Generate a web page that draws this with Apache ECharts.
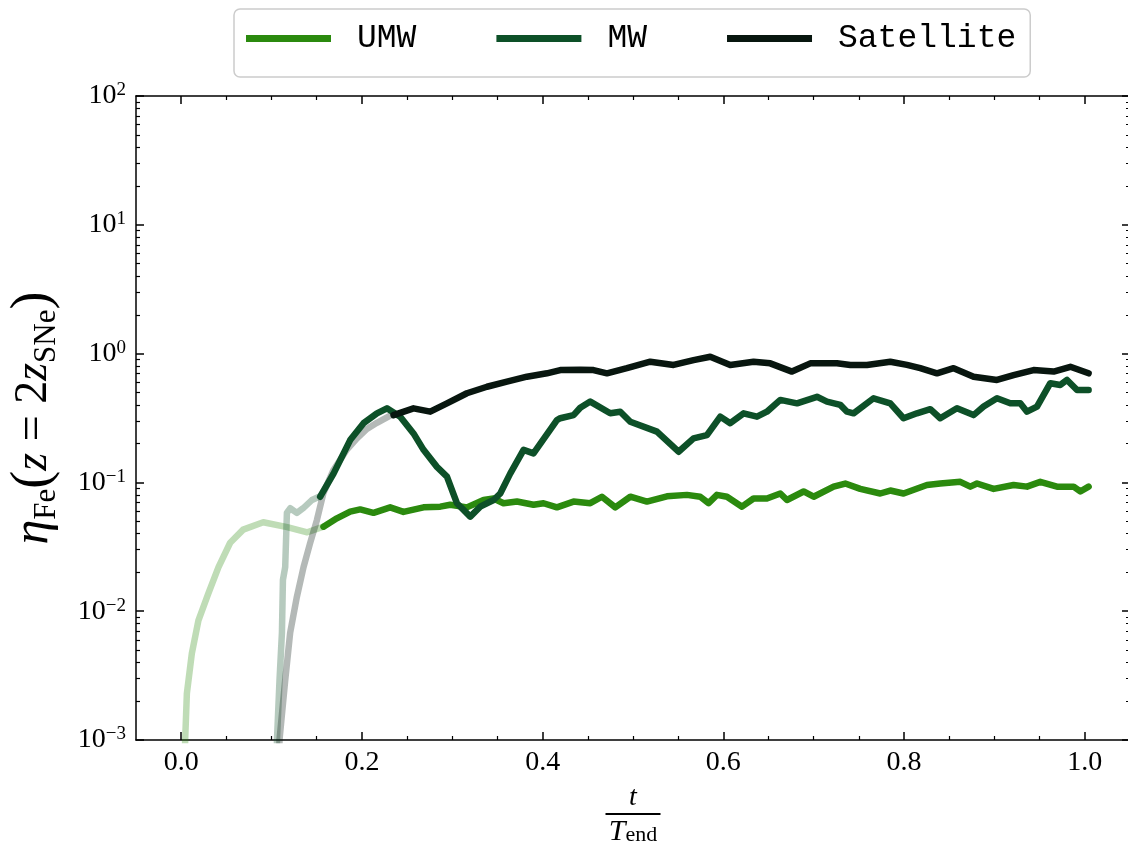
<!DOCTYPE html>
<html>
<head>
<meta charset="utf-8">
<script src="https://cdn.jsdelivr.net/npm/echarts@6/dist/echarts.min.js"></script>
<style>
  html, body { margin: 0; padding: 0; background: #fff; }
  #chart { width: 1128px; height: 843px; }
</style>
</head>
<body>
<div id="chart"></div>
<script>
// t / T_end  vs  eta_Fe
const umwEarly = [[0.004,0.0006],[0.0044,0.001],[0.0063,0.0023],[0.0118,0.0047],[0.0191,0.0085],[0.0302,0.0138],[0.0413,0.022],[0.0542,0.034],[0.0686,0.043],[0.0908,0.049],[0.1173,0.045],[0.1395,0.041],[0.1575,0.0453]];
const mwEarly = [[0.1057,0.0007],[0.106,0.001],[0.1088,0.0029],[0.1115,0.0068],[0.1126,0.0175],[0.1151,0.022],[0.117,0.058],[0.1206,0.063],[0.128,0.058],[0.135,0.063],[0.1447,0.073],[0.152,0.077],[0.1538,0.0774]];
const satEarly = [[0.1085,0.0007],[0.1088,0.001],[0.1151,0.0029],[0.1206,0.0068],[0.128,0.0129],[0.1354,0.022],[0.1428,0.034],[0.1502,0.051],[0.1575,0.083],[0.1686,0.125],[0.1834,0.18],[0.1945,0.22],[0.2055,0.26],[0.2166,0.29],[0.2313,0.33],[0.235,0.333]];

const umw = [[0.1575,0.0453],[0.1723,0.0526],[0.187,0.0593],[0.1981,0.0617],[0.2128,0.058],[0.2313,0.064],[0.246,0.059],[0.2682,0.064],[0.2867,0.0648],[0.2977,0.067],[0.3162,0.064],[0.3346,0.073],[0.3457,0.075],[0.3567,0.0689],[0.3716,0.071],[0.3899,0.067],[0.401,0.0689],[0.4158,0.064],[0.4342,0.071],[0.4527,0.069],[0.4656,0.0774],[0.4804,0.064],[0.497,0.0774],[0.5154,0.071],[0.5376,0.078],[0.5597,0.08],[0.5744,0.0774],[0.5836,0.069],[0.5929,0.08],[0.604,0.0774],[0.6206,0.0648],[0.6334,0.075],[0.6482,0.075],[0.663,0.082],[0.6704,0.073],[0.6888,0.085],[0.6999,0.0774],[0.722,0.0927],[0.7349,0.098],[0.7515,0.089],[0.7736,0.082],[0.7847,0.0865],[0.7994,0.082],[0.8253,0.0955],[0.84,0.098],[0.8622,0.101],[0.8733,0.0927],[0.8807,0.098],[0.8991,0.089],[0.9212,0.0955],[0.936,0.0927],[0.9507,0.101],[0.9692,0.0927],[0.9876,0.0927],[0.995,0.085],[1.0042,0.0927]];
const mw = [[0.1538,0.0774],[0.1686,0.117],[0.187,0.213],[0.2018,0.288],[0.2166,0.344],[0.2277,0.376],[0.2424,0.324],[0.2571,0.24],[0.2682,0.179],[0.283,0.132],[0.2941,0.111],[0.3051,0.0689],[0.3199,0.0542],[0.3309,0.0648],[0.3457,0.073],[0.3531,0.082],[0.3641,0.117],[0.3789,0.179],[0.3899,0.168],[0.4158,0.305],[0.4195,0.315],[0.4342,0.333],[0.4416,0.38],[0.4527,0.424],[0.4748,0.344],[0.4859,0.354],[0.497,0.296],[0.5265,0.248],[0.5504,0.173],[0.567,0.22],[0.5818,0.233],[0.5966,0.324],[0.6076,0.288],[0.6224,0.344],[0.6372,0.324],[0.6482,0.354],[0.663,0.437],[0.6815,0.411],[0.7036,0.462],[0.7147,0.424],[0.7294,0.4],[0.7368,0.354],[0.7441,0.344],[0.7662,0.45],[0.7847,0.411],[0.7994,0.315],[0.8142,0.344],[0.829,0.37],[0.84,0.315],[0.8585,0.376],[0.8769,0.333],[0.888,0.388],[0.9028,0.45],[0.9175,0.411],[0.9286,0.411],[0.936,0.354],[0.9471,0.388],[0.9618,0.589],[0.9729,0.571],[0.9803,0.624],[0.9914,0.521],[1.0042,0.521]];
const sat = [[0.235,0.333],[0.2571,0.376],[0.2756,0.354],[0.2941,0.411],[0.3162,0.492],[0.3384,0.553],[0.3605,0.605],[0.3826,0.662],[0.4048,0.703],[0.4195,0.745],[0.4416,0.75],[0.4563,0.745],[0.4712,0.703],[0.4933,0.77],[0.5191,0.865],[0.5449,0.817],[0.567,0.89],[0.5855,0.946],[0.6076,0.817],[0.6334,0.865],[0.6519,0.84],[0.6759,0.725],[0.6962,0.84],[0.7257,0.84],[0.7405,0.817],[0.7589,0.817],[0.7847,0.865],[0.8032,0.817],[0.8179,0.77],[0.8364,0.703],[0.8548,0.77],[0.8769,0.662],[0.9028,0.624],[0.9212,0.68],[0.9433,0.745],[0.9655,0.725],[0.984,0.79],[1.0042,0.703]];

const names = ['UMW', 'MW', 'Satellite'];
const colors = ['#2b8a0e', '#0d5028', '#08160f'];
const xMajor = [0, 0.2, 0.4, 0.6, 0.8, 1.0];
const xMinor = [0.05,0.1,0.15,0.25,0.3,0.35,0.45,0.5,0.55,0.65,0.7,0.75,0.85,0.9,0.95];
const yMinor = [];
[0.001, 0.01, 0.1, 1, 10].forEach(d => { for (let k = 2; k <= 9; k++) yMinor.push(+(d * k).toPrecision(3)); });

const serif = 'Liberation Serif';
const chart = echarts.init(document.getElementById('chart'));

const xBase = { type: 'value', min: -0.05, max: 1.05, gridIndex: 0, splitLine: { show: false } };
const yBase = { type: 'log', logBase: 10, min: 0.001, max: 100, gridIndex: 0, splitLine: { show: false } };
const spine = { show: true, onZero: false, lineStyle: { color: '#000', width: 1.5 } };
const noLine = { show: false, onZero: false };

function line(name, data, i, faded){
  return {
    name, type: 'line', data, xAxisIndex: 0, yAxisIndex: 0,
    showSymbol: false, symbol: 'none', animation: false,
    color: colors[i],
    lineStyle: { color: colors[i], width: 6.5, opacity: faded ? 0.3 : 1, cap: 'round', join: 'round' },
    z: faded ? 2 : 3
  };
}

chart.setOption({
  animation: false,
  backgroundColor: '#fff',
  grid: { left: 136, top: 96, width: 994, height: 644, outerBoundsMode: 'none' },
  legend: {
    data: names, left: 234, top: 9, icon: 'rect',
    itemWidth: 85, itemHeight: 7, itemGap: 80,
    padding: [13, 14, 22, 12],
    backgroundColor: '#fff', borderColor: '#cccccc', borderWidth: 1.5, borderRadius: 6,
    textStyle: { fontFamily: 'Liberation Mono', fontSize: 33, color: '#000', lineHeight: 32, padding: [0, 0, 0, 21] }
  },
  xAxis: [
    Object.assign({}, xBase, {
      position: 'bottom', axisLine: spine,
      axisTick: { inside: true, length: 8, lineStyle: { width: 1.5, color: '#000' }, customValues: xMajor },
      axisLabel: { customValues: xMajor, formatter: v => v.toFixed(1), fontFamily: serif, fontSize: 28, color: '#000', margin: 9 },
      name: '{t|t}\n{bar|}\n{T|T}{e|end}', nameLocation: 'middle', nameGap: 46,
      nameTextStyle: {
        fontFamily: serif, color: '#000', align: 'center', verticalAlign: 'top',
        rich: {
          t: { fontFamily: serif, fontStyle: 'italic', fontSize: 28, lineHeight: 24, align: 'center' },
          bar: { width: 55, height: 2, backgroundColor: '#000', lineHeight: 8, align: 'center' },
          T: { fontFamily: serif, fontStyle: 'italic', fontSize: 30, lineHeight: 28 },
          e: { fontFamily: serif, fontSize: 22, lineHeight: 16, verticalAlign: 'bottom' }
        }
      }
    }),
    Object.assign({}, xBase, {
      position: 'bottom', axisLine: noLine, axisLabel: { show: false },
      axisTick: { inside: true, length: 4, lineStyle: { width: 1.2, color: '#000' }, customValues: xMinor }
    }),
    Object.assign({}, xBase, {
      position: 'top', axisLine: spine, axisLabel: { show: false },
      axisTick: { inside: true, length: 8, lineStyle: { width: 1.5, color: '#000' }, customValues: xMajor }
    }),
    Object.assign({}, xBase, {
      position: 'top', axisLine: noLine, axisLabel: { show: false },
      axisTick: { inside: true, length: 4, lineStyle: { width: 1.2, color: '#000' }, customValues: xMinor }
    })
  ],
  yAxis: [
    Object.assign({}, yBase, {
      position: 'left', interval: 1, axisLine: spine,
      axisTick: { inside: true, length: 8, lineStyle: { width: 1.5, color: '#000' } },
      axisLabel: {
        margin: 10, color: '#000',
        formatter: v => { const e = Math.round(Math.log10(v)); return '{b|10}{s|' + (e < 0 ? '\u2212' + (-e) : e) + '}'; },
        rich: {
          b: { fontFamily: serif, fontSize: 28, lineHeight: 30, color: '#000' },
          s: { fontFamily: serif, fontSize: 19, lineHeight: 19, verticalAlign: 'top', color: '#000' }
        }
      },
      name: '{eta|\u03B7}{sub|Fe}{par|(}{it|z}{rm| = 2}{it|z}{sub|SNe}{par|)}',
      nameLocation: 'middle', nameRotate: 90, nameGap: 74,
      nameTextStyle: {
        fontFamily: serif, color: '#000',
        rich: {
          eta: { fontFamily: serif, fontStyle: 'italic', fontSize: 50, lineHeight: 56 },
          it: { fontFamily: serif, fontStyle: 'italic', fontSize: 46, lineHeight: 56 },
          rm: { fontFamily: serif, fontSize: 46, lineHeight: 56 },
          par: { fontFamily: serif, fontSize: 54, lineHeight: 56 },
          sub: { fontFamily: serif, fontSize: 31, lineHeight: 30, verticalAlign: 'bottom' }
        }
      }
    }),
    Object.assign({}, yBase, {
      position: 'left', axisLine: noLine, axisLabel: { show: false },
      axisTick: { inside: true, length: 4, lineStyle: { width: 1.2, color: '#000' }, customValues: yMinor }
    }),
    Object.assign({}, yBase, {
      position: 'right', interval: 1, axisLine: spine, axisLabel: { show: false },
      axisTick: { inside: true, length: 8, lineStyle: { width: 1.5, color: '#000' } }
    }),
    Object.assign({}, yBase, {
      position: 'right', axisLine: noLine, axisLabel: { show: false },
      axisTick: { inside: true, length: 4, lineStyle: { width: 1.2, color: '#000' }, customValues: yMinor }
    })
  ],
  series: [
    line('UMW early', umwEarly, 0, true),
    line('MW early', mwEarly, 1, true),
    line('Satellite early', satEarly, 2, true),
    line('UMW', umw, 0, false),
    line('MW', mw, 1, false),
    line('Satellite', sat, 2, false)
  ]
});
</script>
</body>
</html>
